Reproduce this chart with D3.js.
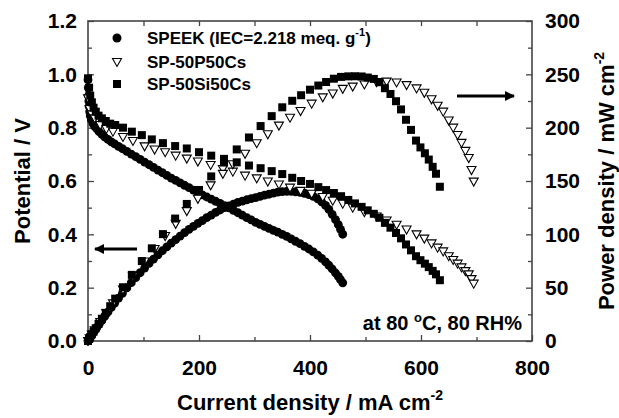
<!DOCTYPE html>
<html><head><meta charset="utf-8">
<script src="https://cdn.jsdelivr.net/npm/d3@7"></script>
<style>
body{margin:0;background:#fff}
svg{display:block}
text{font-family:"Liberation Sans",Arial,Helvetica,sans-serif;font-weight:bold;fill:#000}
</style>
</head><body><div id="chart"></div>
<script>
// ---------- data ----------
const xTicks = [0, 200, 400, 600, 800];
const yLeftTicks = [0.0, 0.2, 0.4, 0.6, 0.8, 1.0, 1.2];
const yRightTicks = [0, 50, 100, 150, 200, 250, 300];
const seriesNames = ["SPEEK (IEC=2.218 meq. g", "SP-50P50Cs", "SP-50Si50Cs"];

// SPEEK (filled circles)
const speekI = [0, 0.5, 1, 1.5, 2, 3, 4, 6, 9, 12, 16, 20, 25, 30, 36, 42, 48, 55, 62, 70, 78, 86, 94, 102, 110, 118, 126, 134, 142, 150, 158, 166, 174, 182, 190, 198, 206, 214, 222, 230, 238, 246, 254, 262, 270, 278, 286, 294, 302, 310, 318, 326, 334, 342, 350, 358, 366, 374, 382, 390, 398, 406, 414, 421, 428, 434, 440, 446, 451, 455, 459];
const speekV = [0.98, 0.95, 0.92, 0.90, 0.88, 0.86, 0.845, 0.83, 0.815, 0.805, 0.795, 0.785, 0.775, 0.765, 0.756, 0.747, 0.739, 0.73, 0.721, 0.711, 0.701, 0.691, 0.681, 0.671, 0.661, 0.651, 0.641, 0.631, 0.621, 0.611, 0.602, 0.593, 0.584, 0.575, 0.566, 0.557, 0.548, 0.54, 0.532, 0.524, 0.516, 0.508, 0.499, 0.49, 0.481, 0.472, 0.463, 0.454, 0.445, 0.437, 0.43, 0.422, 0.415, 0.408, 0.40, 0.392, 0.383, 0.374, 0.365, 0.355, 0.345, 0.334, 0.322, 0.31, 0.297, 0.284, 0.27, 0.255, 0.242, 0.23, 0.218];
const speekP = [0, 0.5, 0.9, 1.4, 1.8, 2.6, 3.4, 5.0, 7.3, 9.7, 12.7, 15.7, 19.4, 23.0, 27.2, 31.4, 35.5, 40.2, 44.7, 49.8, 54.7, 59.4, 64.0, 68.4, 72.7, 76.8, 80.8, 84.6, 88.2, 91.7, 95.1, 98.4, 101.6, 104.7, 107.5, 110.3, 112.9, 115.6, 118.1, 120.5, 122.8, 125.0, 126.7, 128.4, 129.9, 131.2, 132.4, 133.5, 134.4, 135.5, 136.7, 137.6, 138.6, 139.5, 140.0, 140.3, 140.2, 139.9, 139.4, 138.5, 137.3, 135.6, 133.3, 130.5, 127.1, 123.3, 118.8, 113.7, 109.1, 104.7, 100.1];

// SP-50P50Cs (open down triangles)
const p50I = [0, 3, 7, 12, 22, 33, 45, 63, 81, 102, 120, 139, 158, 178, 198, 221, 243, 261, 283, 304, 324, 344, 364, 383, 403, 423, 441, 459, 477, 498, 520, 538, 556, 574, 592, 606, 619, 630, 640, 650, 658, 666, 673, 680, 686, 691, 695];
const p50V = [0.91, 0.87, 0.85, 0.835, 0.81, 0.795, 0.785, 0.765, 0.75, 0.73, 0.718, 0.708, 0.695, 0.684, 0.673, 0.66, 0.645, 0.635, 0.62, 0.61, 0.598, 0.587, 0.575, 0.563, 0.552, 0.54, 0.526, 0.515, 0.50, 0.483, 0.467, 0.452, 0.436, 0.418, 0.40, 0.384, 0.366, 0.35, 0.336, 0.318, 0.304, 0.29, 0.276, 0.262, 0.25, 0.232, 0.215];
const p50P = [0, 2.6, 6.0, 10.0, 17.8, 26.2, 35.3, 48.2, 60.8, 74.5, 86.2, 98.4, 109.8, 121.8, 133.3, 145.9, 156.7, 165.7, 175.5, 185.4, 193.8, 201.9, 209.3, 215.6, 222.5, 228.4, 232.0, 236.4, 238.5, 240.5, 242.8, 243.2, 242.4, 239.9, 236.8, 232.7, 226.6, 220.5, 215.0, 206.7, 200.0, 193.1, 185.7, 178.2, 171.5, 160.3, 149.4];

// SP-50Si50Cs (filled squares)
const si50I = [0, 2, 4, 7, 10, 14, 19, 25, 32, 40, 49, 63, 79, 97, 115, 135, 157, 178, 200, 222, 245, 268, 290, 311, 331, 350, 368, 384, 400, 415, 429, 443, 456, 469, 481, 493, 504, 515, 525, 535, 545, 555, 564, 573, 582, 591, 599, 607, 614, 621, 627, 634];
const si50V = [0.985, 0.95, 0.92, 0.895, 0.875, 0.86, 0.845, 0.835, 0.825, 0.815, 0.81, 0.80, 0.785, 0.772, 0.756, 0.742, 0.731, 0.722, 0.708, 0.695, 0.683, 0.67, 0.658, 0.648, 0.637, 0.626, 0.612, 0.60, 0.589, 0.577, 0.566, 0.555, 0.543, 0.529, 0.516, 0.503, 0.49, 0.477, 0.462, 0.443, 0.425, 0.405, 0.385, 0.362, 0.34, 0.318, 0.303, 0.29, 0.277, 0.263, 0.25, 0.228];
const si50P = [0, 1.9, 3.7, 6.3, 8.8, 12.0, 16.1, 20.9, 26.4, 32.6, 39.7, 50.4, 62.0, 74.9, 86.9, 100.2, 114.8, 128.5, 141.6, 154.3, 167.3, 179.6, 190.8, 201.5, 210.8, 219.1, 225.2, 230.4, 235.6, 239.5, 242.8, 245.9, 247.6, 248.1, 248.2, 248.0, 247.0, 245.7, 242.6, 237.0, 231.6, 224.8, 217.1, 207.4, 197.9, 187.9, 181.5, 176.0, 170.1, 163.3, 156.8, 144.6];

// ---------- chart ----------
const W = 619, H = 418;
const L = 88, R = 532, T = 21, B = 341;
const svg = d3.select("#chart").append("svg").attr("width", W).attr("height", H);
const x = d3.scaleLinear().domain([0, 800]).range([L, R]);
const yL = d3.scaleLinear().domain([0, 1.2]).range([B, T]);
const yR = d3.scaleLinear().domain([0, 300]).range([B, T]);
const axisColor = "#444";

function styleAxis(g) {
  g.select(".domain").remove();
  g.selectAll(".tick line").attr("stroke", axisColor).attr("stroke-width", 1.3);
}

// minor ticks
svg.append("g").attr("transform", `translate(0,${B})`)
  .call(d3.axisBottom(x).tickValues([100, 300, 500, 700]).tickSize(-4).tickFormat(""))
  .call(styleAxis);
svg.append("g").attr("transform", `translate(${L},0)`)
  .call(d3.axisLeft(yL).tickValues([0.1, 0.3, 0.5, 0.7, 0.9, 1.1]).tickSize(-4).tickFormat(""))
  .call(styleAxis);
svg.append("g").attr("transform", `translate(${R},0)`)
  .call(d3.axisRight(yR).tickValues([25, 75, 125, 175, 225, 275]).tickSize(-4).tickFormat(""))
  .call(styleAxis);
svg.append("g").attr("transform", `translate(0,${T})`)
  .call(d3.axisTop(x).tickValues([100, 200, 300, 400, 500, 600, 700]).tickSize(-5).tickFormat(""))
  .call(styleAxis);

// major axes
const gx = svg.append("g").attr("transform", `translate(0,${B})`)
  .call(d3.axisBottom(x).tickValues(xTicks).tickSize(-6).tickPadding(19).tickFormat(d3.format("d")))
  .call(styleAxis);
const gyl = svg.append("g").attr("transform", `translate(${L},0)`)
  .call(d3.axisLeft(yL).tickValues(yLeftTicks).tickSize(-6).tickPadding(11).tickFormat(d3.format(".1f")))
  .call(styleAxis);
const gyr = svg.append("g").attr("transform", `translate(${R},0)`)
  .call(d3.axisRight(yR).tickValues(yRightTicks).tickSize(-6).tickPadding(13).tickFormat(d3.format("d")))
  .call(styleAxis);
[gx, gyl, gyr].forEach(g => g.selectAll(".tick text")
  .attr("font-family", '"Liberation Sans",Arial,sans-serif').attr("font-weight", "bold")
  .attr("font-size", 21).attr("fill", "#000"));

// frame
svg.append("rect").attr("x", L).attr("y", T).attr("width", R - L).attr("height", B - T)
  .attr("fill", "none").attr("stroke", axisColor).attr("stroke-width", 1.6);

// markers
const triPath = "M-4.5,-3.5L4.5,-3.5L0,4.5Z";
function drawSeries(I, vals, scale, kind) {
  const g = svg.append("g");
  const data = I.map((c, k) => [c, vals[k]]);
  if (kind === "circle") {
    g.selectAll("circle").data(data).join("circle")
      .attr("cx", d => x(d[0])).attr("cy", d => scale(d[1])).attr("r", 4.4).attr("fill", "#000");
  } else if (kind === "square") {
    g.selectAll("rect").data(data).join("rect")
      .attr("x", d => x(d[0]) - 4).attr("y", d => scale(d[1]) - 4)
      .attr("width", 8).attr("height", 8).attr("fill", "#000");
  } else {
    g.selectAll("path").data(data).join("path")
      .attr("d", triPath).attr("transform", d => `translate(${x(d[0])},${scale(d[1])})`)
      .attr("fill", "#fff").attr("stroke", "#000").attr("stroke-width", 1.1);
  }
}
drawSeries(speekI, speekV, yL, "circle");
drawSeries(speekI, speekP, yR, "circle");
drawSeries(p50I, p50V, yL, "tri");
drawSeries(p50I, p50P, yR, "tri");
drawSeries(si50I, si50V, yL, "square");
drawSeries(si50I, si50P, yR, "square");

// legend
const legY = [38, 62, 84];
const lg = svg.append("g");
lg.append("circle").attr("cx", 117).attr("cy", legY[0]).attr("r", 4.5).attr("fill", "#000");
lg.append("path").attr("d", triPath).attr("transform", `translate(117,${legY[1]})`)
  .attr("fill", "#fff").attr("stroke", "#000").attr("stroke-width", 1.1);
lg.append("rect").attr("x", 113).attr("y", legY[2] - 4).attr("width", 8).attr("height", 8).attr("fill", "#000");
const t0 = lg.append("text").attr("x", 147).attr("y", legY[0]).attr("dy", "0.36em").attr("font-size", 17);
t0.append("tspan").text(seriesNames[0]);
t0.append("tspan").attr("font-size", 11).attr("dy", "-0.75em").text("-1");
t0.append("tspan").attr("dy", "0.5em").text(")");
lg.append("text").attr("x", 147).attr("y", legY[1]).attr("dy", "0.36em").attr("font-size", 17).text(seriesNames[1]);
lg.append("text").attr("x", 147).attr("y", legY[2]).attr("dy", "0.36em").attr("font-size", 17).text(seriesNames[2]);

// condition annotation
const ann = svg.append("text").attr("x", 522).attr("y", 330).attr("text-anchor", "end").attr("font-size", 20);
ann.append("tspan").text("at 80 ");
ann.append("tspan").attr("font-size", 13).attr("dy", "-0.6em").text("o");
ann.append("tspan").attr("dy", "0.4em").text("C, 80 RH%");

// arrows
svg.append("defs").append("marker").attr("id", "ah").attr("viewBox", "0 0 10 10")
  .attr("refX", 9).attr("refY", 5).attr("markerWidth", 3.6).attr("markerHeight", 3.4)
  .attr("markerUnits", "strokeWidth").attr("orient", "auto")
  .append("path").attr("d", "M0,0L10,5L0,10Z").attr("fill", "#000");
svg.append("line").attr("x1", 137).attr("y1", 249).attr("x2", 95).attr("y2", 249)
  .attr("stroke", "#000").attr("stroke-width", 3).attr("marker-end", "url(#ah)");
svg.append("line").attr("x1", 457).attr("y1", 96).attr("x2", 514).attr("y2", 96)
  .attr("stroke", "#000").attr("stroke-width", 3).attr("marker-end", "url(#ah)");

// axis titles
const xt = svg.append("text").attr("x", (L + R) / 2).attr("y", 410).attr("text-anchor", "middle").attr("font-size", 22);
xt.append("tspan").text("Current density / mA cm");
xt.append("tspan").attr("font-size", 14).attr("dy", "-0.75em").text("-2");

svg.append("text").attr("transform", `translate(30,${(T + B) / 2}) rotate(-90)`)
  .attr("text-anchor", "middle").attr("font-size", 22).text("Potential / V");

const yt = svg.append("text").attr("transform", `translate(614,${(T + B) / 2}) rotate(-90)`)
  .attr("text-anchor", "middle").attr("font-size", 22);
yt.append("tspan").text("Power density / mW cm");
yt.append("tspan").attr("font-size", 14).attr("dy", "-0.75em").text("-2");
</script>
</body></html>
